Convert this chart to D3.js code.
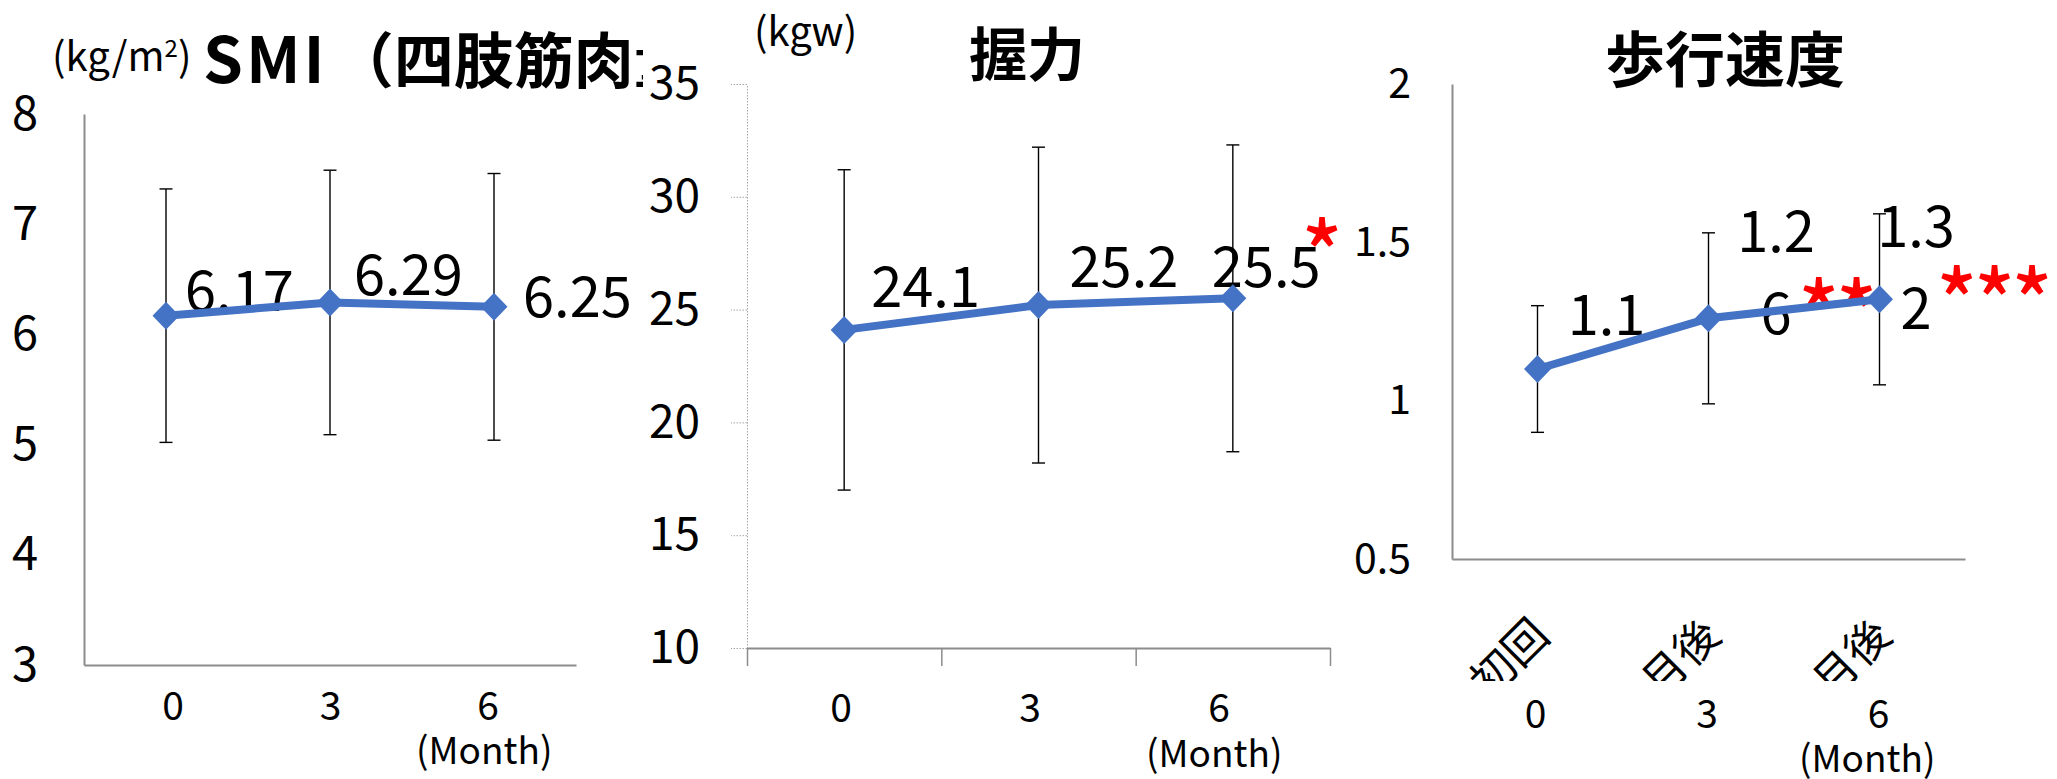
<!DOCTYPE html>
<html>
<head>
<meta charset="utf-8">
<script src="https://cdn.jsdelivr.net/npm/d3@7"></script>
<style>
  html, body { margin: 0; padding: 0; background: #fff; }
  svg { display: block; font-family: "Noto Sans CJK JP", "Noto Sans", sans-serif; }
</style>
</head>
<body>
<svg id="chart" width="2057" height="779"></svg>
<script>
// ---- data ----
const months = ["0", "3", "6"];
const visitLabels = ["初回", "3ヶ月後", "6ヶ月後"];

const smiMean = [6.17, 6.29, 6.25];
const smiSD = [1.15, 1.20, 1.21];
const smiTicks = [3, 4, 5, 6, 7, 8];

const gripMean = [24.1, 25.2, 25.5];
const gripSD = [7.1, 7.0, 6.8];
const gripTicks = [10, 15, 20, 25, 30, 35];
const gripSig = ["", "", "*"];

const walkMean = [1.10, 1.26, 1.32];
const walkSD = [0.20, 0.27, 0.27];
const walkTicks = [0.5, 1, 1.5, 2];
const walkSig = ["", "**", "***"];

// ---- drawing ----
const svg = d3.select("#chart");
const BLUE = "#4472C4";
const AXIS_GREY = "#8c8c8c";

function drawPanel(root, cfg) {
  const g = root.append("g");
  if (cfg.background) {
    g.append("rect").attr("x", cfg.background[0]).attr("y", 0)
      .attr("width", cfg.background[1] - cfg.background[0]).attr("height", 779)
      .attr("fill", "#fff");
  }
  const x = d3.scaleBand().domain(months).range([cfg.x0, cfg.x1]);
  const y = d3.scaleLinear().domain(cfg.domain).range([cfg.yBottom, cfg.yTop]);
  const cx = m => x(m) + x.bandwidth() / 2;

  // title + unit
  const title = g.append("text").attr("x", cfg.title.x).attr("y", cfg.title.y)
    .attr("font-size", cfg.title.size).attr("font-weight", 700)
    .attr("text-anchor", cfg.title.anchor || "middle").attr("fill", "#000");
  cfg.title.parts.forEach(p => {
    const t = title.append("tspan").text(p.t);
    if (p.spacing) t.attr("letter-spacing", p.spacing);
    if (p.size) t.attr("font-size", p.size);
    if (p.dx) t.attr("dx", p.dx);
  });
  if (cfg.unit) {
    const u = g.append("text").attr("x", cfg.unit.x).attr("y", cfg.unit.y)
      .attr("font-size", cfg.unit.size).attr("fill", "#000");
    cfg.unit.parts.forEach(p => {
      const t = u.append("tspan").text(p.t);
      if (p.sup) t.attr("font-size", cfg.unit.size * 0.6).attr("dy", -cfg.unit.size * 0.35);
      else if (p.after) t.attr("dy", cfg.unit.size * 0.35);
    });
  }

  // y axis
  const yAxis = d3.axisLeft(y).tickValues(cfg.ticks)
    .tickSize(cfg.yTickSize).tickSizeOuter(0).tickPadding(cfg.yPad)
    .tickFormat(d3.format(cfg.tickFmt));
  const ya = g.append("g").attr("transform", `translate(${cfg.x0},0)`).call(yAxis);
  ya.attr("font-family", null);
  ya.selectAll("text").attr("font-size", cfg.tickFont).attr("fill", "#000");
  ya.select(".domain").attr("stroke", cfg.dotted ? "#a6a6a6" : AXIS_GREY)
    .attr("stroke-width", cfg.dotted ? 1 : 2)
    .attr("stroke-dasharray", cfg.dotted ? "1.5,1.5" : null);
  ya.selectAll(".tick line").attr("stroke", "#a6a6a6").attr("stroke-dasharray", "1.5,1.5");

  // x axis line (with category boundary ticks where present)
  const xb = d3.scaleLinear().domain([0, months.length]).range([cfg.x0, cfg.x1]);
  const xAxis = d3.axisBottom(xb).tickValues(cfg.boundaryTicks ? d3.range(months.length + 1) : [])
    .tickSize(cfg.boundaryTicks ? 18 : 0).tickSizeOuter(0).tickFormat("");
  const xa = g.append("g").attr("transform", `translate(0,${cfg.yBottom})`).call(xAxis);
  xa.select(".domain").attr("stroke", AXIS_GREY).attr("stroke-width", 2);
  xa.selectAll(".tick line").attr("stroke", AXIS_GREY).attr("stroke-width", 1.5);

  // month labels beneath the axis
  const mc = (cfg.x0 + cfg.x1) / 2 + cfg.monthShift;
  g.append("g").selectAll("text").data(months).join("text")
    .attr("x", (d, i) => mc + (i - 1) * cfg.monthStep)
    .attr("y", cfg.monthY).attr("text-anchor", "middle")
    .attr("font-size", 39).attr("fill", "#000").text(d => d);
  g.append("text").attr("x", cfg.monthUnitX).attr("y", cfg.monthUnitY)
    .attr("font-size", 37).attr("fill", "#000").text("(Month)");

  const pts = cfg.mean.map((v, i) => ({ m: months[i], v, sd: cfg.sd[i], i }));

  // error bars
  const eb = g.append("g").attr("stroke", "#000").attr("stroke-width", 1.4);
  pts.forEach(p => {
    const X = cx(p.m);
    eb.append("line").attr("x1", X).attr("x2", X).attr("y1", y(p.v - p.sd)).attr("y2", y(p.v + p.sd));
    [p.v - p.sd, p.v + p.sd].forEach(e => {
      eb.append("line").attr("x1", X - 6.5).attr("x2", X + 6.5).attr("y1", y(e)).attr("y2", y(e));
    });
  });

  // value labels
  const lab = g.append("g").attr("font-size", 56).attr("fill", "#000");
  pts.forEach(p => {
    const n = cfg.labelNudge[p.i];
    const str = cfg.labelFmt(p.v);
    const lines = cfg.wrap ? [str.slice(0, 3), str.slice(3)].filter(s => s.length) : [str];
    const t = lab.append("text").attr("x", cx(p.m) + n[0]).attr("y", y(p.v) + n[1])
      .attr("text-anchor", cfg.wrap ? "middle" : "start");
    lines.forEach((s, k) => {
      t.append("tspan").attr("x", cx(p.m) + n[0]).attr("dy", k === 0 ? 0 : 82).text(s);
    });
  });

  // significance marks (sit beneath the mean line)
  if (cfg.sig) {
    g.append("g").selectAll("text").data(pts.filter(p => cfg.sig[p.i])).join("text")
      .attr("x", p => cx(p.m) + cfg.sigNudge[p.i][0])
      .attr("y", p => y(p.v) + cfg.sigNudge[p.i][1])
      .attr("font-size", 84).attr("font-weight", 500).attr("fill", "#ff0000")
      .attr("letter-spacing", -3)
      .text(p => cfg.sig[p.i]);
  }

  // mean line and diamond markers
  g.append("path").datum(pts)
    .attr("d", d3.line().x(p => cx(p.m)).y(p => y(p.v)))
    .attr("fill", "none").attr("stroke", BLUE).attr("stroke-width", 8)
    .attr("stroke-linejoin", "round");
  g.append("g").selectAll("path").data(pts).join("path")
    .attr("transform", p => `translate(${cx(p.m)},${y(p.v)})`)
    .attr("d", "M0,-14L13.5,0L0,14L-13.5,0Z").attr("fill", BLUE);

  // rotated visit labels, partly hidden below the axis area
  if (cfg.visitLabels) {
    const clipId = "clip-visit";
    g.append("clipPath").attr("id", clipId).append("rect")
      .attr("x", cfg.x0).attr("y", cfg.yBottom).attr("width", cfg.x1 - cfg.x0 + 40).attr("height", 681 - cfg.yBottom);
    g.append("g").attr("clip-path", `url(#${clipId})`).selectAll("text").data(visitLabels).join("text")
      .attr("transform", (d, i) => `translate(${cx(months[i]) + 14},638) rotate(-45)`)
      .attr("text-anchor", "end").attr("font-size", 44).attr("fill", "#000").text(d => d);
  }
  return g;
}

// SMI panel
drawPanel(svg, {
  x0: 84, x1: 576, yTop: 114, yBottom: 665, domain: [3, 8],
  ticks: smiTicks, tickFmt: "d", yTickSize: 0, yPad: 46, tickFont: 47,
  mean: smiMean, sd: smiSD, labelFmt: d3.format(".2f"),
  labelNudge: [[19, -5], [24, -7], [29, 10]],
  monthShift: 0.5, monthStep: 157.5, monthY: 720, monthUnitX: 416, monthUnitY: 764,
  title: { x: 203, y: 83, size: 60, anchor: "start",
           parts: [{ t: "SMI", spacing: 3, size: 64 }, { t: "（四肢筋肉量）", dx: 6 }] },
  unit: { x: 52, y: 71, size: 40, parts: [{ t: "(kg/m" }, { t: "2", sup: true }, { t: ")", after: true }] }
});

// grip strength panel
drawPanel(svg, {
  background: [643, 1345],
  x0: 747, x1: 1330, yTop: 84, yBottom: 648, domain: [10, 35],
  ticks: gripTicks, tickFmt: "d", yTickSize: 16, yPad: 31, tickFont: 46, dotted: true,
  boundaryTicks: true,
  mean: gripMean, sd: gripSD, labelFmt: d3.format(".1f"),
  labelNudge: [[27, -23], [31, -18], [-21, -11]],
  sig: gripSig, sigNudge: [[0, 0], [0, 0], [69, -14]],
  monthShift: -8.5, monthStep: 189, monthY: 722, monthUnitX: 1146, monthUnitY: 767,
  title: { x: 1027, y: 76, size: 58, parts: [{ t: "握力" }] },
  unit: { x: 754, y: 46, size: 40, parts: [{ t: "(kgw)" }] }
});

// walking speed panel
drawPanel(svg, {
  x0: 1452, x1: 1965, yTop: 84, yBottom: 559, domain: [0.5, 2],
  ticks: walkTicks, tickFmt: "", yTickSize: 0, yPad: 41, tickFont: 41,
  mean: walkMean, sd: walkSD, labelFmt: v => String(+v.toFixed(2)), wrap: true,
  labelNudge: [[69, -34], [67.5, -66], [36.5, -52]],
  sig: walkSig, sigNudge: [[0, 0], [90, 26], [57, 33]],
  monthShift: -1.5, monthStep: 171.5, monthY: 728, monthUnitX: 1799, monthUnitY: 772,
  title: { x: 1725, y: 82, size: 60, parts: [{ t: "歩行速度" }] },
  visitLabels: true
});
</script>
</body>
</html>
